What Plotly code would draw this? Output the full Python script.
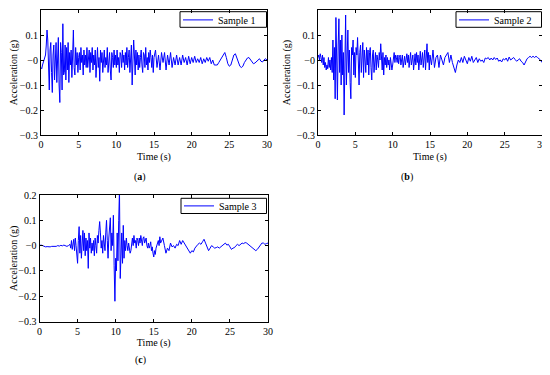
import numpy as np
import plotly.graph_objects as go

# ---------------- data ----------------
t1_a = np.round(np.arange(0, 15.0001, 0.1), 2)
t1_b = np.round(np.arange(15.2, 30.0001, 0.2), 2)
s1_a = [
    -0.03, -0.035, -0.02, -0.01, 0.0, 0.01, 0.02, 0.06, 0.12, 0.08, -0.05,
    -0.12, 0.04, 0.07, -0.05, -0.13, 0.02, 0.06, -0.08, 0.05, 0.07,
    -0.09, 0.03, 0.09, -0.1, -0.17, 0.07, 0.03, -0.12, 0.145, -0.06,
    -0.05, 0.06, -0.08, 0.05, -0.04, 0.07, -0.09, 0.03, -0.02, 0.04,
    -0.07, 0.02, 0.12, -0.03, -0.06, 0.05, -0.02, 0.03, -0.05, 0.01,
    0.03, -0.04, 0.05, -0.01, 0.02, -0.06, 0.04, -0.02, 0.02, -0.03,
    0.05, -0.03, 0.01, 0.04, -0.05, 0.03, -0.01, 0.05, -0.04, 0.02,
    -0.02, 0.04, -0.07, 0.02, 0.05, -0.03, 0.01, -0.085, 0.04, -0.01,
    0.03, -0.05, 0.02, 0.04, -0.03, 0.01, -0.02, 0.05, -0.05, 0.02,
    0.03, -0.04, -0.08, 0.03, 0.01, -0.03, 0.04, -0.02, 0.02, -0.03,
    0.04, -0.02, 0.01, -0.05, 0.03, 0.02, -0.03, 0.04, -0.01, 0.02,
    -0.04, 0.03, -0.02, 0.05, -0.03, 0.01, 0.04, -0.05, 0.02, 0.06,
    -0.1, -0.03, 0.08, 0.02, -0.06, 0.04, -0.02, 0.03, -0.04, 0.02,
    -0.03, 0.01, 0.04, -0.02, -0.05, 0.03, 0.02, -0.03, 0.05, -0.02,
    0.01, -0.04, 0.03, -0.01, 0.04, 0.01, -0.03, 0.02, -0.05, 0.01,
]
s1_b = [
    0.04, -0.03, 0.02, -0.04, 0.03, -0.01, 0.03, -0.04, 0.02, -0.02,
    0.03, -0.03, 0.01, -0.02, 0.02, -0.02, 0.01, -0.02, 0.02, -0.01,
    0.01, -0.02, 0.015, -0.015, 0.01, -0.01, 0.015, -0.01, 0.005, -0.01,
    0.01, -0.015, 0.005, -0.01, 0.01, -0.005, 0.01, -0.015, 0.0, -0.02,
    -0.02, -0.02, -0.01, 0.0, 0.01, 0.025, 0.03, 0.01, -0.015, -0.025,
    -0.02, 0.0, 0.02, 0.025, 0.01, -0.01, -0.025, -0.03, -0.025, -0.01,
    0.0, 0.008, 0.01, 0.0, -0.01, -0.015, -0.012, -0.005, 0.0, 0.005,
    -0.005, -0.008, 0.0, 0.005, 0.0,
]

t2_a = t1_a
t2_b = t1_b
s2_a = [
    0.01, 0.02, 0.0, 0.025, 0.01, -0.01, 0.02, -0.02, 0.01, -0.03, -0.01,
    -0.04, -0.02, -0.035, 0.01, -0.03, 0.0, -0.04, 0.01, -0.05, 0.08,
    -0.08, 0.05, -0.155, 0.17, -0.06, -0.16, 0.06, 0.165, -0.05, 0.08,
    -0.1, 0.1, -0.06, 0.03, -0.22, -0.02, 0.18, -0.1, 0.06, 0.12,
    -0.05, 0.04, -0.09, -0.155, 0.05, 0.02, 0.08, -0.06, 0.03, -0.07,
    0.05, 0.02, 0.09, -0.04, -0.1, 0.03, 0.06, -0.05, 0.02, 0.07,
    -0.07, 0.04, 0.0, -0.05, 0.05, -0.02, 0.04, -0.06, 0.03, 0.05,
    -0.03, -0.08, 0.02, 0.04, -0.05, 0.01, 0.03, -0.04, 0.02, 0.0,
    -0.03, 0.03, 0.0, 0.065, 0.02, -0.04, 0.03, -0.06, 0.01, -0.02,
    0.02, -0.03, 0.01, -0.02, 0.0, -0.04, 0.01, -0.02, -0.04, -0.02,
    0.0, 0.03, -0.01, 0.02, 0.01, -0.01, 0.02, -0.015, 0.01, 0.02,
    -0.02, 0.01, 0.02, -0.03, 0.0, 0.015, -0.02, 0.01, 0.025, -0.01,
    0.02, -0.03, 0.01, 0.03, -0.02, 0.0, 0.02, -0.04, 0.01, 0.025,
    -0.02, 0.03, -0.01, 0.02, -0.04, 0.01, 0.035, -0.02, 0.0, 0.03,
    -0.03, 0.02, 0.04, -0.04, 0.01, 0.065, -0.01, 0.03, -0.04, 0.02,
]
s2_b = [
    -0.02, 0.04, -0.03, 0.01, 0.02, -0.03, 0.02, 0.0, -0.02, 0.01,
    0.02, 0.03, -0.01, 0.02, -0.01, -0.03, -0.05, -0.02, 0.0, -0.01,
    0.01, -0.01, 0.015, 0.0, -0.015, 0.01, -0.005, 0.015, -0.01, 0.0,
    0.01, -0.01, 0.005, -0.005, 0.0, -0.01, 0.008, 0.005, 0.01, 0.0,
    0.008, 0.0, 0.01, 0.002, 0.008, -0.005, 0.0, -0.008, 0.005, 0.0,
    0.008, -0.005, 0.012, 0.0, 0.005, 0.01, 0.002, -0.005, 0.0, 0.005,
    -0.005, -0.01, -0.02, -0.005, 0.005, 0.01, 0.015, 0.01, 0.015, 0.01,
    0.015, 0.01, 0.005, 0.0, -0.01,
]

t3_a = np.round(np.arange(0, 3.8001, 0.2), 2)
t3_b = np.round(np.arange(4.0, 16.0001, 0.1), 2)
t3_c = np.round(np.arange(16.2, 30.0001, 0.2), 2)
s3_a = [0.0, 0.002, 0.0, -0.003, -0.005, -0.004, -0.006, -0.005, -0.003, -0.004,
        -0.002, -0.003, 0.0, -0.002, 0.001, -0.001, 0.002, 0.0, -0.003, 0.0]
s3_b = [
    0.005, -0.01, 0.02, -0.015, 0.01, 0.025, -0.02, 0.03, 0.0, -0.03,
    -0.07, 0.02, 0.075, -0.03, 0.04, -0.05, 0.01, 0.06, -0.02, 0.05,
    -0.04, 0.03, -0.02, 0.02, -0.09, 0.05, -0.01, 0.03, -0.03, 0.01,
    -0.02, 0.02, -0.04, 0.03, 0.0, -0.03, 0.04, 0.01, 0.06, 0.095,
    0.05, -0.01, 0.02, -0.03, 0.04, 0.0, -0.02, 0.05, 0.1, 0.02,
    -0.05, 0.03, 0.06, 0.11, -0.02, 0.05, 0.0, 0.12, -0.08, -0.22,
    -0.05, -0.1, 0.05, -0.06, 0.1, 0.22, -0.13, 0.02, 0.05, -0.07,
    0.08, -0.05, 0.02, -0.02, 0.03, 0.0, -0.02, 0.01, -0.01, -0.03,
    -0.02, 0.01, 0.03, 0.0, 0.04, 0.01, 0.02, -0.01, 0.03, 0.02,
    0.0, 0.03, 0.01, 0.04, 0.02, 0.0, 0.03, 0.035, 0.01, 0.02,
    0.03, 0.0, -0.01, 0.01, -0.01, 0.0, 0.015, -0.02, -0.005, -0.03,
    -0.045, -0.02, -0.035, -0.01, 0.0, 0.01, 0.02, 0.0, 0.035, 0.01,
    0.02,
]
s3_c = [
    0.03, 0.0, -0.03, -0.01, -0.02, 0.01, -0.005, 0.0, -0.01, 0.005,
    0.0, 0.02, 0.005, 0.02, 0.01, 0.0, -0.005, -0.015, -0.03, -0.02,
    -0.025, -0.01, 0.0, 0.005, 0.01, 0.005, 0.015, 0.025, 0.01, -0.005,
    -0.02, -0.01, 0.0, -0.005, -0.01, -0.008, -0.005, -0.01, -0.005, 0.0,
    0.005, 0.01, 0.002, 0.005, -0.005, -0.015, -0.01, -0.008, 0.0, 0.005,
    0.0, 0.005, 0.01, 0.008, 0.012, 0.01, 0.005, 0.0, -0.005, -0.01,
    -0.015, -0.02, -0.015, -0.005, 0.005, 0.01, 0.01, 0.005, 0.008, 0.01,
]

x_ticks = [0, 5, 10, 15, 20, 25, 30]
y_ticks = [-0.3, -0.2, -0.1, 0.0, 0.1, 0.2]
y_ticktext = ["\u22120.3", "\u22120.2", "\u22120.1", "\u22120", "0.1", "0.2"]
names = ["Sample 1", "Sample 2", "Sample 3"]
panel_labels = ["a", "b", "c"]

# ---------------- figure ----------------
# the page body has an 8px margin, so the figure is offset by 8px
OFF = 8
W, H = 550 - OFF, 375 - 2 * OFF
FONT = "Liberation Serif"
BLUE = "#0000FF"


def fx(px):
    return (px - OFF) / W


def fy(py):
    return 1 - (py - OFF) / H


series = [
    (np.concatenate([t1_a, t1_b]), s1_a + s1_b),
    (np.concatenate([t2_a, t2_b]), s2_a + s2_b),
    (np.concatenate([t3_a, t3_b, t3_c]), s3_a + s3_b + s3_c),
]

# panel boxes in screen pixels: (left, right, top, bottom)
boxes = [(41, 267, 10, 135), (318, 542, 10, 135), (39.5, 268, 195, 321.5)]
# legend boxes in screen pixels: (left, right, top, bottom)
leg_boxes = [(180, 266.5, 11.7, 27.3), (456, 541.5, 11.7, 27.3), (181, 266.5, 198.3, 213.5)]
leg_center = [19.9, 19.9, 205.9]
label_pos = [(140, 177), (407, 177), (140, 360)]

fig = go.Figure()
layout = dict(
    width=W, height=H, margin=dict(l=0, r=0, t=0, b=0, autoexpand=False),
    paper_bgcolor="white", plot_bgcolor="white",
    font=dict(family=FONT, size=10, color="black"),
    showlegend=True,
)

annotations = []
shapes = []
for i, ((tt, yy), (l, r, tp, bt)) in enumerate(zip(series, boxes)):
    sfx = "" if i == 0 else str(i + 1)
    fig.add_trace(go.Scatter(
        x=tt, y=yy, mode="lines", name=names[i],
        line=dict(color=BLUE, width=1),
        xaxis="x" + sfx, yaxis="y" + sfx,
        legend="legend" + sfx,
    ))
    ax = dict(
        domain=[fx(l), fx(r)], range=[0, 30], tickvals=x_ticks,
        ticks="inside", ticklen=3, tickcolor="black", showline=True,
        linecolor="black", linewidth=1, mirror="allticks", showgrid=False,
        zeroline=False, anchor="y" + sfx, automargin=False,
        title=dict(text="Time (s)", standoff=3, font=dict(family=FONT, size=10)),
        tickfont=dict(family=FONT, size=10),
    )
    ay = dict(
        domain=[fy(bt), fy(tp)], range=[-0.3, 0.2],
        tickvals=y_ticks, ticktext=y_ticktext,
        ticks="inside", ticklen=3, tickcolor="black", showline=True,
        linecolor="black", linewidth=1, mirror="allticks", showgrid=False,
        zeroline=False, anchor="x" + sfx, automargin=False,
        title=dict(text="Acceleration (g)", standoff=4, font=dict(family=FONT, size=10)),
        tickfont=dict(family=FONT, size=10),
    )
    layout["xaxis" + sfx] = ax
    layout["yaxis" + sfx] = ay
    bl, br, btp, bbt = leg_boxes[i]
    # legend frame (white box with black border) drawn as a shape under the traces
    shapes.append(dict(
        type="rect", xref="paper", yref="paper",
        x0=fx(bl), x1=fx(br), y0=fy(bbt), y1=fy(btp),
        line=dict(color="black", width=1), fillcolor="white", layer="below",
    ))
    layout["legend" + sfx] = dict(
        x=fx(bl - 2), y=fy(leg_center[i]), xanchor="left", yanchor="middle",
        bgcolor="rgba(0,0,0,0)", borderwidth=0,
        font=dict(family=FONT, size=10), itemwidth=30,
    )
    px, py = label_pos[i]
    annotations.append(dict(
        x=fx(px), y=fy(py), xref="paper", yref="paper",
        text="(<b>%s</b>)" % panel_labels[i], showarrow=False,
        font=dict(family=FONT, size=10), xanchor="center", yanchor="middle",
    ))

layout["annotations"] = annotations
layout["shapes"] = shapes
fig.update_layout(**layout)
fig.write_html("out.html")
